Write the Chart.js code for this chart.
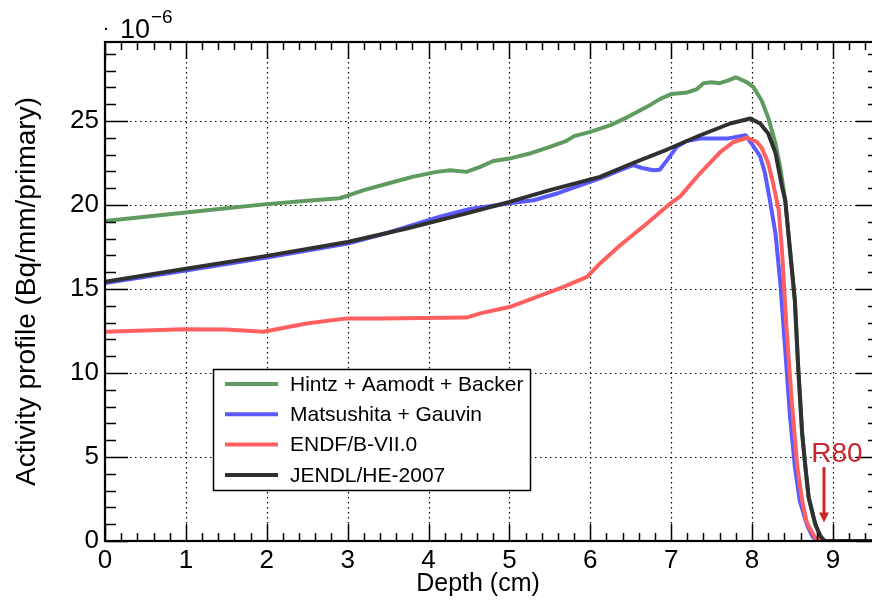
<!DOCTYPE html>
<html><head><meta charset="utf-8">
<script src="https://cdn.jsdelivr.net/npm/chart.js@4/dist/chart.umd.min.js"></script>
<style>
html,body{margin:0;padding:0;background:#fff;overflow:hidden;width:872px;height:606px;}
#wrap{position:absolute;left:0;top:0;width:882px;height:606px;}
</style>
</head><body>
<div id="wrap"><canvas id="c" width="882" height="606"></canvas></div>
<script>
// ---- data ----
const seriesLabels = ["Hintz + Aamodt + Backer", "Matsushita + Gauvin", "ENDF/B-VII.0", "JENDL/HE-2007"];
const seriesColors = ["#5f9b5f", "#5a5aff", "#ff5f5f", "#303030"];

const hintzX = [0, 0.5, 1.0, 1.5, 2.0, 2.5, 2.9, 3.0, 3.2, 3.5, 3.8, 4.1, 4.27, 4.47, 4.64, 4.8, 5.0, 5.25, 5.5, 5.7, 5.8, 6.0, 6.25, 6.45, 6.7, 6.86, 7.0, 7.1, 7.2, 7.32, 7.4, 7.5, 7.6, 7.7, 7.8, 7.94, 8.02, 8.12, 8.2, 8.29, 8.35, 8.41, 8.47, 8.53, 8.57, 8.62, 8.66, 8.7, 8.78, 8.88, 9.6];
const hintzY = [19.05, 19.3, 19.55, 19.8, 20.05, 20.25, 20.4, 20.55, 20.88, 21.28, 21.67, 21.97, 22.07, 21.97, 22.27, 22.62, 22.76, 23.06, 23.46, 23.8, 24.1, 24.35, 24.75, 25.2, 25.84, 26.3, 26.6, 26.65, 26.7, 26.9, 27.25, 27.3, 27.25, 27.4, 27.6, 27.3, 27.0, 26.2, 25.2, 23.65, 22.2, 20.3, 17.3, 14.3, 10.4, 6.4, 4.4, 2.6, 1.0, 0, 0];

const matsuX = [0, 1, 2, 3, 3.5, 4.14, 4.5, 5.0, 5.3, 5.6, 6.04, 6.12, 6.37, 6.53, 6.64, 6.78, 6.86, 6.95, 7.07, 7.19, 7.36, 7.69, 7.92, 8.01, 8.1, 8.16, 8.22, 8.29, 8.35, 8.41, 8.47, 8.53, 8.59, 8.68, 8.75, 8.82, 9.6];
const matsuY = [15.35, 16.1, 16.87, 17.7, 18.35, 19.3, 19.75, 20.1, 20.28, 20.7, 21.45, 21.58, 22.07, 22.37, 22.2, 22.07, 22.1, 22.67, 23.46, 23.8, 23.95, 23.95, 24.15, 23.55, 22.9, 21.9, 20.3, 18.3, 15.35, 11.4, 7.4, 4.4, 2.4, 0.95, 0.25, 0, 0];

const endfX = [0, 0.97, 1.5, 1.96, 2.49, 2.99, 3.4, 3.94, 4.47, 4.64, 5.01, 5.34, 5.67, 5.96, 6.12, 6.37, 6.7, 6.99, 7.11, 7.36, 7.61, 7.77, 7.94, 8.06, 8.12, 8.2, 8.26, 8.33, 8.37, 8.43, 8.49, 8.56, 8.62, 8.68, 8.78, 8.85, 9.6];
const endfY = [12.45, 12.6, 12.59, 12.45, 12.95, 13.25, 13.25, 13.28, 13.3, 13.55, 13.94, 14.53, 15.13, 15.72, 16.52, 17.6, 18.9, 20.09, 20.5, 21.9, 23.16, 23.75, 24.0, 23.75, 23.4, 22.5, 21.3, 19.7, 17.3, 12.4, 8.4, 4.4, 2.4, 1.05, 0.2, 0, 0];

const jendlX = [0, 1, 2, 3, 3.73, 4.47, 5.0, 5.5, 6.12, 6.53, 6.95, 7.36, 7.73, 7.98, 8.1, 8.2, 8.29, 8.37, 8.41, 8.47, 8.53, 8.57, 8.62, 8.66, 8.7, 8.78, 8.84, 8.9, 9.6];
const jendlY = [15.43, 16.2, 16.97, 17.8, 18.6, 19.5, 20.18, 20.88, 21.67, 22.5, 23.3, 24.15, 24.85, 25.15, 24.85, 24.25, 23.1, 21.1, 20.3, 17.3, 14.3, 10.4, 6.4, 4.4, 2.6, 1.05, 0.3, 0, 0];

const xTickValues = [0, 1, 2, 3, 4, 5, 6, 7, 8, 9];
const yTickValues = [0, 5, 10, 15, 20, 25];
const xAxisTitle = "Depth (cm)";
const yAxisTitle = "Activity profile (Bq/mm/primary)";
const annotationText = "R80";
const annotationX = [8.89];
const annotationY = [4.4, 1.1];
const exponentText = ["\u00b7", "10", "\u22126"];

// ---- chart ----
const pairs = (xs, ys) => xs.map((x, i) => ({x: x, y: ys[i]}));
const seriesData = [pairs(hintzX, hintzY), pairs(matsuX, matsuY), pairs(endfX, endfY), pairs(jendlX, jendlY)];
const orders = [4, 3, 2, 1];

const FONT = "'Liberation Sans', Arial, Helvetica, sans-serif";

const rootPlugin = {
  id: 'rootStyle',
  beforeDatasetsDraw(chart) {
    const {ctx, chartArea: a, scales: {x, y}} = chart;
    ctx.save();
    ctx.strokeStyle = '#000';
    ctx.lineWidth = 1.2;
    ctx.setLineDash([1.5, 3.5]);
    xTickValues.forEach(v => {
      if (v <= 0) return;
      const px = Math.round(x.getPixelForValue(v)) + 0.5;
      ctx.beginPath(); ctx.moveTo(px, a.top); ctx.lineTo(px, a.bottom); ctx.stroke();
    });
    yTickValues.forEach(v => {
      if (v <= 0) return;
      const py = Math.round(y.getPixelForValue(v)) + 0.5;
      ctx.beginPath(); ctx.moveTo(a.left, py); ctx.lineTo(a.right, py); ctx.stroke();
    });
    ctx.restore();
  },
  afterDatasetsDraw(chart) {
    const {ctx, chartArea: a, scales: {x, y}} = chart;
    ctx.save();
    // ticks
    ctx.strokeStyle = '#000';
    ctx.lineWidth = 1.5;
    ctx.setLineDash([]);
    for (let k = 0; k <= Math.floor(x.max / 0.2 + 1e-6); k++) {
      const v = k * 0.2;
      const major = Math.abs(v - Math.round(v)) < 1e-6;
      const len = major ? 17 : 8;
      const px = Math.round(x.getPixelForValue(v)) + 0.5;
      ctx.beginPath(); ctx.moveTo(px, a.bottom); ctx.lineTo(px, a.bottom - len); ctx.stroke();
      ctx.beginPath(); ctx.moveTo(px, a.top); ctx.lineTo(px, a.top + len); ctx.stroke();
    }
    for (let v = 0; v <= y.max + 1e-6; v += 1) {
      const major = v % 5 === 0;
      const len = major ? 23 : 11;
      const py = Math.round(y.getPixelForValue(v)) + 0.5;
      ctx.beginPath(); ctx.moveTo(a.left, py); ctx.lineTo(a.left + len, py); ctx.stroke();
      ctx.beginPath(); ctx.moveTo(a.right, py); ctx.lineTo(a.right - len, py); ctx.stroke();
    }
    // frame
    ctx.lineWidth = 2.2;
    ctx.strokeRect(a.left, a.top, a.right - a.left, a.bottom - a.top);

    // x axis title (ROOT places it slightly left of the frame centre)
    ctx.fillStyle = '#000';
    ctx.font = "25px " + FONT;
    ctx.textAlign = 'center';
    ctx.textBaseline = 'alphabetic';
    ctx.fillText(xAxisTitle, 478, 591);

    // legend
    const lx = 213, ly = 369, lw = 317, lh = 121;
    ctx.fillStyle = '#fff';
    ctx.fillRect(lx, ly, lw, lh);
    ctx.lineWidth = 1.5;
    ctx.strokeStyle = '#000';
    ctx.strokeRect(lx + 0.5, ly + 0.5, lw, lh);
    ctx.font = "21px " + FONT;
    ctx.textBaseline = 'middle';
    ctx.textAlign = 'left';
    seriesLabels.forEach((lab, i) => {
      const cy = 384 + i * 30.3;
      ctx.strokeStyle = seriesColors[i];
      ctx.lineWidth = 4;
      ctx.beginPath(); ctx.moveTo(225, cy); ctx.lineTo(278, cy); ctx.stroke();
      ctx.fillStyle = '#000';
      ctx.fillText(lab, 290, cy + 1);
    });

    // R80 annotation
    const red = '#c8282d';
    const ax = x.getPixelForValue(annotationX[0]);
    const ay0 = y.getPixelForValue(annotationY[0]);
    const ay1 = y.getPixelForValue(annotationY[1]);
    ctx.strokeStyle = red; ctx.fillStyle = red;
    ctx.lineWidth = 3;
    ctx.beginPath(); ctx.moveTo(ax, ay0); ctx.lineTo(ax, ay1 - 9); ctx.stroke();
    ctx.beginPath(); ctx.moveTo(ax - 5, ay1 - 10); ctx.lineTo(ax + 5, ay1 - 10); ctx.lineTo(ax, ay1); ctx.closePath(); ctx.fill();
    ctx.font = "28px " + FONT;
    ctx.textAlign = 'center';
    ctx.textBaseline = 'alphabetic';
    ctx.fillText(annotationText, ax + 13, ay0 - 5);

    // exponent label
    ctx.fillStyle = '#000';
    ctx.textAlign = 'left';
    ctx.font = "bold 14px " + FONT;
    ctx.fillText(exponentText[0], 104, 34);
    ctx.font = "27px " + FONT;
    ctx.fillText(exponentText[1], 120, 38);
    ctx.font = "19px " + FONT;
    ctx.fillText(exponentText[2], 151, 23);
    ctx.restore();
  }
};

new Chart(document.getElementById('c'), {
  type: 'line',
  data: {
    datasets: seriesLabels.map((lab, i) => ({
      label: lab,
      data: seriesData[i],
      borderColor: seriesColors[i],
      backgroundColor: seriesColors[i],
      borderWidth: 4,
      pointRadius: 0,
      tension: 0,
      fill: false,
      order: orders[i],
      borderJoinStyle: 'round',
      borderCapStyle: 'round'
    }))
  },
  options: {
    responsive: false,
    animation: false,
    devicePixelRatio: 1,
    layout: {padding: {left: 0, right: 3, top: 42, bottom: 0}},
    plugins: {legend: {display: false}, tooltip: {enabled: false}},
    scales: {
      x: {
        type: 'linear', min: 0, max: 9.57,
        afterFit: s => { s.height = 65; },
        afterBuildTicks: s => { s.ticks = xTickValues.map(v => ({value: v})); },
        ticks: {font: {size: 26, family: FONT}, color: '#000', padding: 4, maxRotation: 0, autoSkip: false, callback: v => String(v)},
        grid: {display: false, drawTicks: false},
        border: {display: false},
        title: {display: false, text: xAxisTitle}
      },
      y: {
        type: 'linear', min: 0, max: 29.7,
        afterFit: s => { s.width = 105; },
        afterBuildTicks: s => { s.ticks = yTickValues.map(v => ({value: v})); },
        ticks: {font: {size: 26, family: FONT}, color: '#000', padding: 6, callback: v => String(v)},
        grid: {display: false, drawTicks: false},
        border: {display: false},
        title: {display: true, text: yAxisTitle, color: '#000', font: {size: 28, family: FONT}, padding: {top: 10, bottom: 0}}
      }
    }
  },
  plugins: [rootPlugin]
});
</script>
</body></html>
